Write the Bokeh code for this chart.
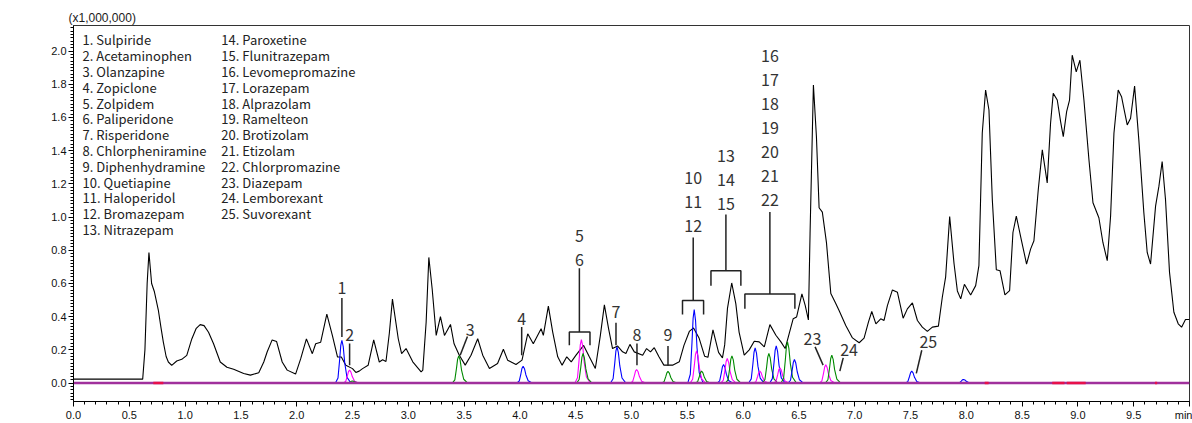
from bokeh.plotting import figure
from bokeh.models import Range1d, SingleIntervalTicker, NumeralTickFormatter, ColumnDataSource
from bokeh.core.properties import value
from bokeh.embed import file_html
from bokeh.resources import INLINE

# ---------------- data ----------------
TIC_T = [0.0, 0.62, 0.64, 0.66, 0.676, 0.70, 0.725, 0.76, 0.785, 0.805, 0.83, 0.85, 0.88, 0.925, 0.97,
         1.015, 1.06, 1.10, 1.135, 1.17, 1.21, 1.255, 1.315, 1.375, 1.435, 1.525, 1.585, 1.66, 1.705,
         1.735, 1.78, 1.82, 1.87, 1.915, 1.99, 2.036, 2.087, 2.14, 2.17, 2.215, 2.27, 2.32, 2.366, 2.40,
         2.44, 2.50, 2.53, 2.56, 2.59, 2.64, 2.69, 2.74, 2.77, 2.80, 2.83, 2.858, 2.91, 2.94, 2.98, 3.04,
         3.115, 3.13, 3.16, 3.184, 3.214, 3.25, 3.288, 3.324, 3.378, 3.41, 3.457, 3.51, 3.562, 3.622,
         3.667, 3.727, 3.80, 3.852, 3.89, 3.965, 4.019, 4.07, 4.12, 4.19, 4.21, 4.255, 4.294, 4.339,
         4.378, 4.42, 4.46, 4.503, 4.571, 4.622, 4.676, 4.721, 4.757, 4.795, 4.83, 4.876, 4.92, 4.95,
         4.986, 5.025, 5.10, 5.135, 5.17, 5.204, 5.246, 5.29, 5.368, 5.428, 5.47, 5.518, 5.556, 5.605,
         5.655, 5.685, 5.73, 5.78, 5.815, 5.835, 5.86, 5.898, 5.935, 5.964, 6.01, 6.055, 6.10, 6.144,
         6.19, 6.24, 6.294, 6.339, 6.377, 6.413, 6.449, 6.479, 6.527, 6.557, 6.585, 6.60, 6.63, 6.657,
         6.681, 6.71, 6.747, 6.786, 6.825, 6.86, 6.92, 6.98, 7.04, 7.084, 7.123, 7.153, 7.19, 7.233,
         7.263, 7.293, 7.338, 7.383, 7.434, 7.472, 7.517, 7.562, 7.606, 7.651, 7.696, 7.75, 7.785,
         7.815, 7.851, 7.89, 7.92, 7.95, 7.983, 8.039, 8.084, 8.113, 8.143, 8.173, 8.203, 8.233, 8.269,
         8.302, 8.346, 8.388, 8.418, 8.448, 8.495, 8.54, 8.576, 8.606, 8.645, 8.681, 8.725, 8.755,
         8.779, 8.815, 8.845, 8.869, 8.899, 8.925, 8.949, 8.985, 9.018, 9.054, 9.099, 9.135, 9.188,
         9.224, 9.263, 9.293, 9.323, 9.361, 9.391, 9.412, 9.442, 9.472, 9.508, 9.546, 9.591, 9.621,
         9.651, 9.696, 9.726, 9.755, 9.785, 9.821, 9.86, 9.899, 9.929, 9.964, 10.0]
TIC_I = [0.024, 0.024, 0.2, 0.6, 0.787, 0.60, 0.55, 0.44, 0.33, 0.247, 0.16, 0.127, 0.107, 0.133, 0.143,
         0.167, 0.266, 0.33, 0.352, 0.346, 0.306, 0.237, 0.127, 0.095, 0.083, 0.058, 0.048, 0.062, 0.127,
         0.187, 0.26, 0.25, 0.127, 0.078, 0.054, 0.147, 0.266, 0.177, 0.237, 0.246, 0.415, 0.286, 0.157, 0.157,
         0.107, 0.087, 0.064, 0.072, 0.087, 0.107, 0.26, 0.127, 0.14, 0.13, 0.30, 0.506, 0.267, 0.178, 0.208, 0.128,
         0.068, 0.078, 0.368, 0.757, 0.567, 0.287, 0.40, 0.287, 0.353, 0.237, 0.168, 0.108, 0.168, 0.267,
         0.168, 0.088, 0.118, 0.204, 0.138, 0.112, 0.138, 0.297, 0.237, 0.327, 0.287, 0.463, 0.307, 0.158,
         0.108, 0.158, 0.128, 0.168, 0.227, 0.158, 0.088, 0.287, 0.471, 0.327, 0.208, 0.223, 0.188, 0.178,
         0.233, 0.188, 0.168, 0.208, 0.188, 0.213, 0.158, 0.108, 0.108, 0.128, 0.227, 0.311, 0.332, 0.272,
         0.162, 0.155, 0.32, 0.185, 0.152, 0.23, 0.45, 0.603, 0.477, 0.307, 0.168, 0.2, 0.252, 0.248,
         0.218, 0.352, 0.288, 0.248, 0.208, 0.298, 0.388, 0.398, 0.537, 0.467, 0.38, 0.9, 1.795, 1.485,
         1.056, 1.03, 0.846, 0.54, 0.487, 0.437, 0.347, 0.272, 0.243, 0.271, 0.367, 0.431, 0.357, 0.387,
         0.377, 0.467, 0.561, 0.547, 0.391, 0.447, 0.483, 0.377, 0.337, 0.311, 0.337, 0.343, 0.517,
         0.64, 1.003, 0.72, 0.555, 0.507, 0.595, 0.531, 0.587, 0.707, 1.505, 1.765, 1.645, 1.106, 0.683,
         0.677, 0.531, 0.557, 0.907, 1.006, 0.857, 0.717, 0.807, 0.857, 1.166, 1.405, 1.206, 1.565,
         1.745, 1.705, 1.575, 1.485, 1.635, 1.705, 1.975, 1.875, 1.945, 1.705, 1.345, 1.086, 0.996,
         0.847, 0.737, 1.006, 1.505, 1.765, 1.725, 1.655, 1.555, 1.595, 1.789, 1.465, 1.026, 0.787,
         0.717, 1.066, 1.186, 1.335, 1.106, 0.667, 0.427, 0.357, 0.337, 0.383, 0.383]

# individual compound peaks (mass chromatograms): retention time, height, channel
PEAK_RT = [2.405, 2.474, 2.50, 3.452, 4.029, 4.551, 4.566, 4.870, 5.046, 5.327, 5.562, 5.583, 5.628,
           5.825, 5.858, 5.900, 6.108, 6.150, 6.231, 6.297, 6.330, 6.398, 6.460, 6.741, 6.795, 7.511, 7.975]
PEAK_H = [0.258, 0.078, 0.012, 0.164, 0.102, 0.262, 0.178, 0.218, 0.082, 0.070, 0.443, 0.194, 0.072,
          0.112, 0.148, 0.164, 0.212, 0.072, 0.178, 0.224, 0.092, 0.248, 0.142, 0.110, 0.168, 0.072, 0.022]
PEAK_CH = ["A", "B", "C", "C", "A", "B", "C", "A", "B", "C", "A", "B", "C",
           "A", "B", "C", "A", "B", "C", "A", "B", "C", "A", "B", "C", "A", "A"]
# shape of one peak (time offset from apex, fraction of height)
PEAK_SHAPE_DT = [-0.058, -0.035, -0.02, -0.01, 0.0, 0.012, 0.025, 0.045, 0.08]
PEAK_SHAPE_REL = [0.0, 0.12, 0.55, 0.88, 1.0, 0.85, 0.48, 0.14, 0.0]

# red pieces visible on the baseline
RED_START = [0.715, 8.165, 8.77, 8.90, 9.69]
RED_END = [0.805, 8.20, 8.88, 9.07, 9.71]

COMPOUNDS = ["1. Sulpiride", "2. Acetaminophen", "3. Olanzapine", "4. Zopiclone", "5. Zolpidem",
             "6. Paliperidone", "7. Risperidone", "8. Chlorpheniramine", "9. Diphenhydramine",
             "10. Quetiapine", "11. Haloperidol", "12. Bromazepam", "13. Nitrazepam",
             "14. Paroxetine", "15. Flunitrazepam", "16. Levomepromazine", "17. Lorazepam",
             "18. Alprazolam", "19. Ramelteon", "20. Brotizolam", "21. Etizolam",
             "22. Chlorpromazine", "23. Diazepam", "24. Lemborexant", "25. Suvorexant"]

Y_UNIT = "(x1,000,000)"
X_UNIT = "min"
X_TICK_STEP = 0.5
Y_TICK_STEP = 0.2

# ---------------- figure ----------------
p = figure(width=1192, height=423, x_range=Range1d(0, 10), y_range=Range1d(-0.111, 2.154),
           output_backend="svg", toolbar_location=None,
           min_border_left=73, min_border_right=3, min_border_top=25, min_border_bottom=20)
p.xgrid.visible = False
p.ygrid.visible = False
p.outline_line_color = "#333333"
p.outline_line_width = 1
p.background_fill_color = "white"
p.border_fill_color = "white"

p.title.text = Y_UNIT
p.title.align = "left"
p.title.offset = -5
p.title.standoff = 1
p.title.text_font = "Liberation Sans"
p.title.text_font_size = "12px"
p.title.text_font_style = "normal"
p.title.text_color = "#1a1a1a"

p.xaxis.ticker = SingleIntervalTicker(interval=X_TICK_STEP, num_minor_ticks=5)
p.yaxis.ticker = SingleIntervalTicker(interval=Y_TICK_STEP, num_minor_ticks=10)
for ax in (p.xaxis[0], p.yaxis[0]):
    ax.formatter = NumeralTickFormatter(format="0.0")
    ax.axis_line_color = "black"
    ax.major_tick_line_color = "black"
    ax.minor_tick_line_color = "black"
    ax.major_tick_in = 0
    ax.major_tick_out = 5
    ax.minor_tick_in = 0
    ax.minor_tick_out = 3
    ax.major_label_text_font = "Liberation Sans"
    ax.major_label_text_font_size = "11px"
    ax.major_label_text_color = "#111111"
    ax.major_label_standoff = 2
p.xaxis[0].major_label_overrides = {10: X_UNIT}

# total ion chromatogram
p.line(TIC_T, TIC_I, line_color="black", line_width=1.1)

# compound peaks
CH_COLOR = {"A": "#0000ff", "B": "#ff00ff", "C": "#008a00"}
xs, ys, cs = [], [], []
for rt, h, ch in zip(PEAK_RT, PEAK_H, PEAK_CH):
    xs.append([rt + d for d in PEAK_SHAPE_DT])
    ys.append([h * r for r in PEAK_SHAPE_REL])
    cs.append(CH_COLOR[ch])
p.multi_line(xs="xs", ys="ys", line_color="cs", line_width=1.1,
             source=ColumnDataSource(dict(xs=xs, ys=ys, cs=cs)))

# baseline
p.line([0, 10], [0, 0], line_color="#a0309c", line_width=2.6)
p.segment(x0=RED_START, y0=[0] * len(RED_START), x1=RED_END, y1=[0] * len(RED_END),
          line_color="#e8104a", line_width=2.6)

# legend text block
leg_font = value("Noto Sans CJK JP")
col_x = [0.081, 1.325]
row0 = 2.067
row_step = 15.9 / 167.0
lx, ly, lt = [], [], []
for i, name in enumerate(COMPOUNDS):
    c = 0 if i < 13 else 1
    r = i if i < 13 else i - 13
    lx.append(col_x[c])
    ly.append(row0 - r * row_step)
    lt.append(name)
p.text(x=lx, y=ly, text=lt, text_font=leg_font, text_font_size="13px", text_color="#222222",
       text_baseline="middle", text_align="left")

# peak number annotations
ANNOT = [
    (["1"], 2.405, 0.571, [[(2.405, 0.513), (2.405, 0.278)]]),
    (["2"], 2.474, 0.292, [[(2.474, 0.238), (2.474, 0.108)]]),
    (["3"], 3.554, 0.317, [[(3.530, 0.280), (3.465, 0.168)]]),
    (["4"], 4.016, 0.386, [[(4.016, 0.338), (4.016, 0.168)]]),
    (["5", "6"], 4.533, 0.886, [[(4.533, 0.691), (4.533, 0.308)],
                                [(4.443, 0.228), (4.443, 0.308), (4.628, 0.308), (4.628, 0.228)]]),
    (["7"], 4.861, 0.428, [[(4.861, 0.363), (4.861, 0.228)]]),
    (["8"], 5.049, 0.287, [[(5.049, 0.238), (5.049, 0.108)]]),
    (["9"], 5.327, 0.287, [[(5.327, 0.224), (5.327, 0.104)]]),
    (["10", "11", "12"], 5.553, 1.236, [[(5.553, 0.877), (5.553, 0.497)],
                                       [(5.457, 0.413), (5.457, 0.497), (5.646, 0.497), (5.646, 0.413)]]),
    (["13", "14", "15"], 5.846, 1.369, [[(5.846, 1.016), (5.846, 0.677)],
                                       [(5.712, 0.587), (5.712, 0.677), (5.980, 0.677), (5.980, 0.587)]]),
    (["16", "17", "18", "19", "20", "21", "22"], 6.240, 1.968,
     [[(6.240, 1.030), (6.240, 0.537)],
      [(6.016, 0.447), (6.016, 0.537), (6.464, 0.537), (6.464, 0.447)]]),
    (["23"], 6.621, 0.263, [[(6.645, 0.218), (6.717, 0.108)]]),
    (["24"], 6.950, 0.198, [[(6.897, 0.152), (6.867, 0.072)]]),
    (["25"], 7.660, 0.248, [[(7.601, 0.198), (7.552, 0.058)]]),
]
stack_step = 24.0 / 167.0
ax_, ay_, at_ = [], [], []
lxs, lys = [], []
for labels, tx, ty, lines in ANNOT:
    for k, s in enumerate(labels):
        ax_.append(tx)
        ay_.append(ty - k * stack_step)
        at_.append(s)
    for ln in lines:
        lxs.append([pt[0] for pt in ln])
        lys.append([pt[1] for pt in ln])
p.multi_line(xs=lxs, ys=lys, line_color="#222222", line_width=1.5)
p.text(x=ax_, y=ay_, text=at_, text_font=leg_font, text_font_size="16px", text_color="#333333",
       text_baseline="middle", text_align="center")

open("out.html", "w").write(file_html(p, INLINE))
